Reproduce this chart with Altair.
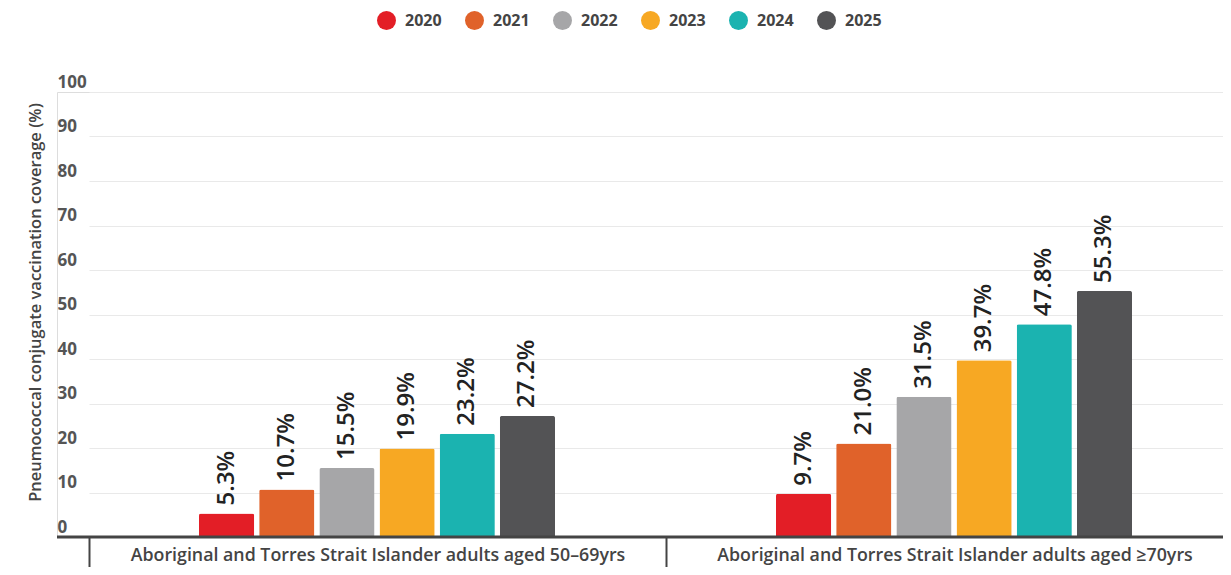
import altair as alt
import pandas as pd

groups = [
    "Aboriginal and Torres Strait Islander adults aged 50–69yrs",
    "Aboriginal and Torres Strait Islander adults aged ≥70yrs",
]
years = ["2020", "2021", "2022", "2023", "2024", "2025"]
values_50_69 = [5.3, 10.7, 15.5, 19.9, 23.2, 27.2]
values_70 = [9.7, 21.0, 31.5, 39.7, 47.8, 55.3]
colors = ["#e31e26", "#e0622a", "#a6a6a8", "#f7a823", "#1bb3b0", "#535355"]
y_ticks = [0, 10, 20, 30, 40, 50, 60, 70, 80, 90, 100]

rows = []
for g, vals in zip(groups, [values_50_69, values_70]):
    for yr, v in zip(years, vals):
        rows.append({"group": g, "year": yr, "value": v})
df = pd.DataFrame(rows)

FONT = "Open Sans"
W, H = 1166, 445

x_enc = alt.X(
    "group:N",
    sort=groups,
    scale=alt.Scale(range=[32, 1186], paddingInner=0, paddingOuter=0),
    axis=alt.Axis(
        title=None,
        domain=False,
        ticks=True,
        tickBand="extent",
        tickSize=40,
        tickColor="#444444",
        tickWidth=2,
        labelAngle=0,
        labelAlign="center",
        labelPadding=-31,
        labelBaseline="top",
        labelFontSize=17.8,
        labelFontWeight=600,
        labelColor="#444444",
        labelFont=FONT,
        labelLimit=0,
        grid=False,
    ),
)
xoff = alt.XOffset("year:N", sort=years, scale=alt.Scale(range=[110, 466], paddingInner=0.083, paddingOuter=0))
y_enc = alt.Y(
    "value:Q",
    scale=alt.Scale(domain=[0, 100], nice=False),
    axis=alt.Axis(
        title="Pneumococcal conjugate vaccination coverage (%)",
        values=y_ticks,
        domain=False,
        ticks=False,
        tickSize=0,
        labelAlign="left",
        labelPadding=0,
        labelBaseline="alphabetic",
        labelOffset=-5,
        labelFontSize=17,
        labelFontWeight="bold",
        labelColor="#555555",
        labelFont=FONT,
        grid=True,
        gridColor="#e9e9e9",
        gridWidth=1,
        titleAngle=-90,
        titleX=-22,
        titleY=210,
        titleAlign="center",
        titleBaseline="middle",
        titleFontSize=16.5,
        titleFontWeight=600,
        titleColor="#444444",
        titleFont=FONT,
    ),
)

bars = alt.Chart(df).mark_bar(cornerRadiusTopLeft=2, cornerRadiusTopRight=2).encode(
    x=x_enc,
    xOffset=xoff,
    y=y_enc,
    color=alt.Color(
        "year:N",
        sort=years,
        scale=alt.Scale(domain=years, range=colors),
        legend=alt.Legend(
            orient="none",
            legendX=320,
            legendY=-81,
            direction="horizontal",
            title=None,
            symbolType="circle",
            symbolSize=360,
            symbolStrokeWidth=0,
            symbolOpacity=1,
            labelFontSize=16,
            labelFontWeight="bold",
            labelColor="#444444",
            labelFont=FONT,
            labelOffset=9,
            columnPadding=23,
        ),
    ),
)

labels = alt.Chart(df).transform_calculate(
    label="format(datum.value, '.1f') + '%'"
).mark_text(
    angle=270, align="left", baseline="middle", dx=8, fontSize=24, fontWeight=600,
    color="#222222", font=FONT,
).encode(
    x=alt.X("group:N", sort=groups),
    xOffset=alt.XOffset("year:N", sort=years),
    y=alt.Y("value:Q"),
    text="label:N",
)

baseline = alt.Chart(pd.DataFrame({"v": [0]})).mark_rule(
    color="#444444", strokeWidth=3
).encode(y=alt.Y("v:Q"))

chart = alt.layer(bars, labels, baseline).properties(
    width=W,
    height=H,
    padding={"left": 49, "top": 84, "right": 0, "bottom": 30},
    autosize=alt.AutoSizeParams(type="none"),
).configure_view(stroke=None).configure(background="white")

chart.save("out.html", embed_options={"renderer": "svg", "actions": False})
